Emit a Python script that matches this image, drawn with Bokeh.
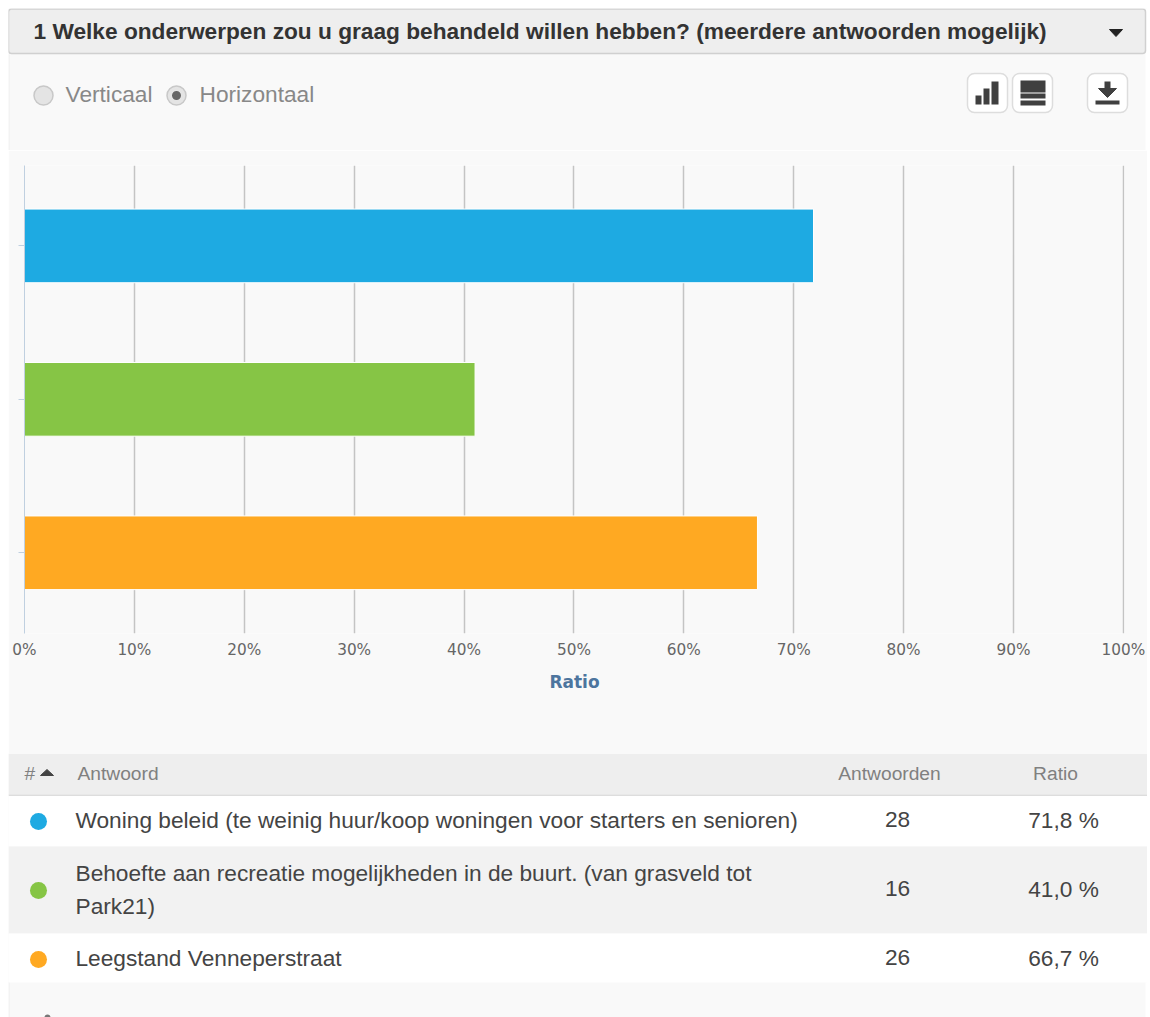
from bokeh.plotting import figure
from bokeh.layouts import column
from bokeh.models import Range1d, FixedTicker, PrintfTickFormatter, BoxAnnotation
from bokeh.core.properties import value
from bokeh.embed import file_html
from bokeh.resources import INLINE

title = "1 Welke onderwerpen zou u graag behandeld willen hebben? (meerdere antwoorden mogelijk)"
radio_labels = ["Verticaal", "Horizontaal"]
answers = [
    ["Woning beleid (te weinig huur/koop woningen voor starters en senioren)"],
    ["Behoefte aan recreatie mogelijkheden in de buurt. (van grasveld tot", "Park21)"],
    ["Leegstand Venneperstraat"],
]
counts = [28, 16, 26]
ratios = [71.8, 41.0, 66.7]
ratio_labels = ["71,8 %", "41,0 %", "66,7 %"]
colors = ["#1eaae2", "#86c545", "#ffa922"]
x_ticks = [0, 10, 20, 30, 40, 50, 60, 70, 80, 90, 100]
headers = ["#", "Antwoord", "Antwoorden", "Ratio"]
axis_title = "Ratio"

W = 1139
SANS = "Liberation Sans"
PANEL = "#f9f9f9"


def strip(top, bottom, bg):
    f = figure(width=W, height=bottom - top, x_range=Range1d(8, 8 + W), y_range=Range1d(bottom, top),
               x_axis_location=None, y_axis_location=None, toolbar_location=None,
               output_backend="svg", min_border=0, background_fill_color=bg,
               border_fill_color=bg, outline_line_color=None, frame_align=False)
    f.grid.visible = False
    return f


def write(f, x, y, s, size, color, style="normal", align="left"):
    f.text([x], [y], text=[s], text_font=value(SANS), text_font_size=f"{size}px", text_color=color,
           text_font_style=style, text_align=align, text_baseline="middle")


# ---------- top bar ----------
top = strip(8, 150, PANEL)
top.quad(left=[1145], right=[1147], top=[8], bottom=[150], color="#ffffff", line_color=None)
top.quad(left=[8], right=[9], top=[54], bottom=[150], color="#eeeeee", line_color=None)
top.quad(left=[8], right=[1145], top=[8.5], bottom=[53], fill_color="#eeeeee", line_color="#d0d0d0",
         line_width=1.5, border_radius=3)
write(top, 33, 30, title, 22.7, "#333333", "bold")
top.patch([1109, 1122, 1115.5], [29, 29, 36], color="#222222")

top.circle([43, 176], [95, 95], radius=9.5, fill_color="#e4e4e4", line_color="#c8c8c8", line_width=1.5)
top.circle([176], [95], radius=4.5, fill_color="#666666", line_color=None)
write(top, 65, 93, radio_labels[0], 22.7, "#888888")
write(top, 199, 93, radio_labels[1], 22.7, "#888888")

top.quad(left=[967, 1012, 1087], right=[1007, 1052, 1127], top=[73, 73, 73], bottom=[112, 112, 112],
         fill_color="#ffffff", line_color="#dddddd", line_width=1.5, border_radius=7)
ICON = "#404040"
top.quad(left=[975, 983, 991], right=[981, 989, 998], top=[95, 88, 81], bottom=[104, 104, 104],
         color=ICON, line_color=None)
top.quad(left=[1020, 1020, 1020], right=[1045, 1045, 1045], top=[80, 93, 100], bottom=[92, 98, 105],
         color=ICON, line_color=None)
top.quad(left=[1095, 1104], right=[1119, 1110], top=[100, 81], bottom=[104, 90], color=ICON, line_color=None)
top.patch([1098, 1116, 1107], [88, 88, 97], color=ICON)

# ---------- chart ----------
c_top, c_bot = 150, 753
p = figure(width=W, height=c_bot - c_top, x_range=Range1d(0, 100.1), y_range=Range1d(2.526, -0.524),
           toolbar_location=None, output_backend="svg", background_fill_color=PANEL, border_fill_color=PANEL,
           outline_line_color=None, min_border_left=16, min_border_right=23, min_border_top=15,
           min_border_bottom=120, frame_align=False)
p.hbar(y=[0, 1, 2], left=0, right=ratios, height=0.48, fill_color=colors, line_color="#ffffff", line_width=1)
p.ygrid.visible = False
p.xgrid.ticker = FixedTicker(ticks=x_ticks[1:])
p.xgrid.grid_line_color = "#c4c4c4"
p.xgrid.grid_line_width = 1.5
p.xaxis.ticker = FixedTicker(ticks=x_ticks)
p.xaxis.formatter = PrintfTickFormatter(format="%d%%")
p.xaxis.axis_line_color = None
p.xaxis.major_tick_line_color = None
p.xaxis.minor_tick_line_color = None
p.xaxis.major_label_text_font = "DejaVu Sans"
p.xaxis.major_label_text_font_size = "15.3px"
p.xaxis.major_label_text_color = "#666666"
p.xaxis.major_label_standoff = 1
p.xaxis.axis_label = axis_title
p.xaxis.axis_label_text_font = "DejaVu Sans"
p.xaxis.axis_label_text_font_size = "17px"
p.xaxis.axis_label_text_font_style = "bold"
p.xaxis.axis_label_text_color = "#4d759e"
p.xaxis.axis_label_standoff = 10
p.yaxis.ticker = FixedTicker(ticks=[0, 1, 2])
p.yaxis.major_label_overrides = {0: "", 1: "", 2: ""}
p.yaxis.axis_line_color = "#c0d0e0"
p.yaxis.major_tick_line_color = "#c0d0e0"
p.yaxis.major_tick_out = 6
p.yaxis.major_tick_in = 0
p.yaxis.minor_tick_line_color = None
for lo, hi, col in [(0, 1, "#eeeeee"), (W - 2, W, "#ffffff")]:
    p.add_layout(BoxAnnotation(left=lo, right=hi, top=0, bottom=c_bot - c_top, left_units="canvas",
                               right_units="canvas", top_units="canvas", bottom_units="canvas",
                               fill_color=col, fill_alpha=1, line_color=None))

# ---------- table ----------
t = strip(753, 1017, PANEL)
t.quad(left=[8], right=[1147], top=[753], bottom=[794], color="#eeeeee", line_color=None)
t.quad(left=[8], right=[1147], top=[794], bottom=[795.5], color="#dddddd", line_color=None)
t.quad(left=[8, 8, 8], right=[1147, 1147, 1147], top=[795.5, 846, 933], bottom=[846, 933, 982],
       fill_color=["#ffffff", "#f2f2f2", "#ffffff"], line_color=None)
t.quad(left=[1145], right=[1147], top=[982], bottom=[1017], color="#ffffff", line_color=None)
t.quad(left=[8], right=[9], top=[982], bottom=[1017], color="#eeeeee", line_color=None)
HEAD = "#808080"
write(t, 24, 773, headers[0], 19.2, HEAD)
t.patch([40, 53, 46.5], [775, 775, 769], color="#444444")
write(t, 77, 773, headers[1], 19.2, HEAD)
write(t, 889, 773, headers[2], 19.2, HEAD, align="center")
write(t, 1055, 773, headers[3], 19.2, HEAD, align="center")

row_y = [820, 889, 958]
TXT = "#444444"
for i in range(3):
    t.circle([38], [row_y[i] + 1], radius=8.5, fill_color=colors[i], line_color=None)
    lines = answers[i]
    for j, s in enumerate(lines):
        write(t, 75, row_y[i] + (j - (len(lines) - 1) / 2) * 33 - 0.5, s, 22.7, TXT)
    write(t, 897, row_y[i] - 1, str(counts[i]), 22.7, TXT, align="center")
    write(t, 1063, row_y[i] - 1, ratio_labels[i], 22.7, TXT, align="center")
t.circle([47], [1017], radius=3, fill_color="#777777", line_color=None)

page = column(top, p, t, spacing=0, margin=(8, 0, 0, 8))
open("out.html", "w").write(file_html(page, INLINE))
